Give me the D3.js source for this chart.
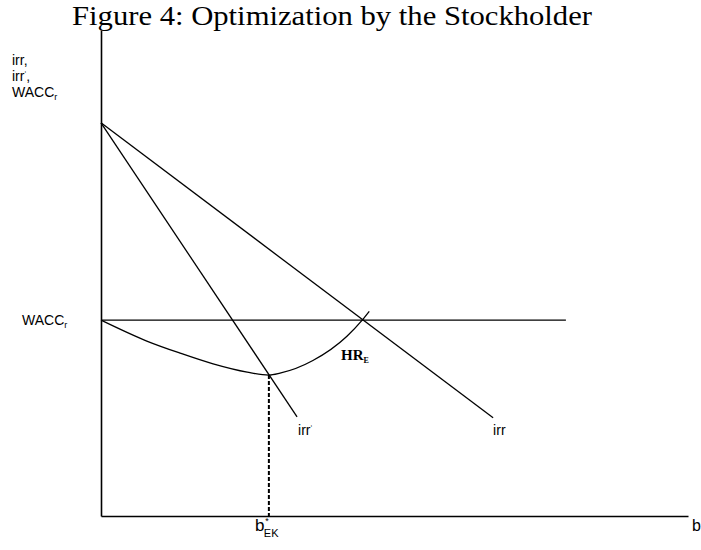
<!DOCTYPE html>
<html>
<head>
<meta charset="utf-8">
<script src="https://cdn.jsdelivr.net/npm/d3@7"></script>
<style>
  body { margin: 0; background: #fff; }
  svg { display: block; }
  .sans { font-family: "Liberation Sans", Arial, sans-serif; fill: #000; }
  .serif { font-family: "Liberation Serif", "Times New Roman", serif; fill: #000; }
</style>
</head>
<body>
<svg id="chart" width="701" height="550"></svg>
<script>
// Debt ratio b (horizontal) against rates (vertical), in abstract units 0-100
const irrB = [0, 66.8];
const irrRate = [80.9, 20.2];
const irrPrimeB = [0, 33.4];
const irrPrimeRate = [80.9, 20.4];
const waccB = [0, 79.2];
const waccRate = [40.3, 40.3];
const hrB = [0, 7.8, 13.5, 19.1, 24.9, 28.6, 30.5, 36.1, 41.9, 44.5, 45.7];
const hrRate = [40.3, 36.0, 33.5, 31.3, 29.6, 29.0, 29.4, 32.0, 37.0, 40.3, 42.1];
const bStar = 28.6;
const bStarRate = 29.0;

const svg = d3.select("#chart");
const x = d3.scaleLinear().domain([0, 100]).range([101, 688]);
const y = d3.scaleLinear().domain([0, 100]).range([516, 30]);

const zip = (a, b) => a.map((v, i) => [v, b[i]]);
const line = d3.line().x(d => x(d[0])).y(d => y(d[1]));

// Title
svg.append("text").attr("class", "serif")
  .attr("x", 72).attr("y", 25)
  .attr("font-size", 28)
  .attr("textLength", 520).attr("lengthAdjust", "spacingAndGlyphs")
  .text("Figure 4: Optimization by the Stockholder");

// Axes: plain lines, no ticks
svg.append("g").attr("transform", `translate(0,${y(0)})`)
  .call(d3.axisBottom(x).tickValues([]).tickSizeOuter(0))
  .select(".domain").attr("stroke", "#000").attr("stroke-width", 1.6);
svg.append("g").attr("transform", `translate(${x(0)},0)`)
  .call(d3.axisLeft(y).tickValues([]).tickSizeOuter(0))
  .select(".domain").attr("stroke", "#000").attr("stroke-width", 1.6);

const g = svg.append("g").attr("fill", "none").attr("stroke", "#000").attr("stroke-width", 1.3);
g.append("path").attr("d", line(zip(irrB, irrRate)));
g.append("path").attr("d", line(zip(irrPrimeB, irrPrimeRate)));
g.append("path").attr("d", line(zip(waccB, waccRate)));
g.append("path").attr("d", d3.line().x(d => x(d[0])).y(d => y(d[1]))
  .curve(d3.curveMonotoneX)(zip(hrB, hrRate)));

// Optimum debt ratio marker
svg.append("line")
  .attr("x1", x(bStar)).attr("x2", x(bStar))
  .attr("y1", y(bStarRate)).attr("y2", y(0))
  .attr("stroke", "#000").attr("stroke-width", 2)
  .attr("stroke-dasharray", "4,2");

// Vertical axis caption
const cap = svg.append("g").attr("class", "sans").attr("font-size", 14);
cap.append("text").attr("x", 12).attr("y", 65).text("irr,");
const t2 = cap.append("text").attr("x", 12).attr("y", 81);
t2.append("tspan").text("irr");
t2.append("tspan").attr("font-size", 8).attr("dy", -5).text("‘");
t2.append("tspan").attr("dy", 5).text(",");
const t3 = cap.append("text").attr("x", 12).attr("y", 97);
t3.append("tspan").text("WACC");
t3.append("tspan").attr("font-size", 9).attr("dy", 3).text("r");

// WACC level label
const tw = svg.append("text").attr("class", "sans").attr("font-size", 14)
  .attr("x", 22).attr("y", 325);
tw.append("tspan").text("WACC");
tw.append("tspan").attr("font-size", 9).attr("dy", 3).text("r");

// Line labels
const tp = svg.append("text").attr("class", "sans").attr("font-size", 14)
  .attr("x", x(irrPrimeB[1]) + 1).attr("y", 435);
tp.append("tspan").text("irr");
tp.append("tspan").attr("font-size", 8).attr("dy", -5).text("‘");
svg.append("text").attr("class", "sans").attr("font-size", 14)
  .attr("x", x(irrB[1])).attr("y", 435).text("irr");

const th = svg.append("text").attr("class", "serif").attr("font-size", 15)
  .attr("font-weight", "bold").attr("x", 341).attr("y", 360);
th.append("tspan").text("HR");
th.append("tspan").attr("font-size", 8).attr("dy", 3).text("E");

// Horizontal axis labels
const bx = x(bStar);
const tb = svg.append("text").attr("class", "sans").attr("font-size", 17)
  .attr("x", bx - 14).attr("y", 531);
tb.append("tspan").text("b");
tb.append("tspan").attr("font-size", 9).attr("dx", 1).attr("dy", -7).text("*");
tb.append("tspan").attr("font-size", 11).attr("dx", -5).attr("dy", 13).text("EK");

svg.append("text").attr("class", "sans").attr("font-size", 16)
  .attr("x", 692).attr("y", 531).text("b");
</script>
</body>
</html>
